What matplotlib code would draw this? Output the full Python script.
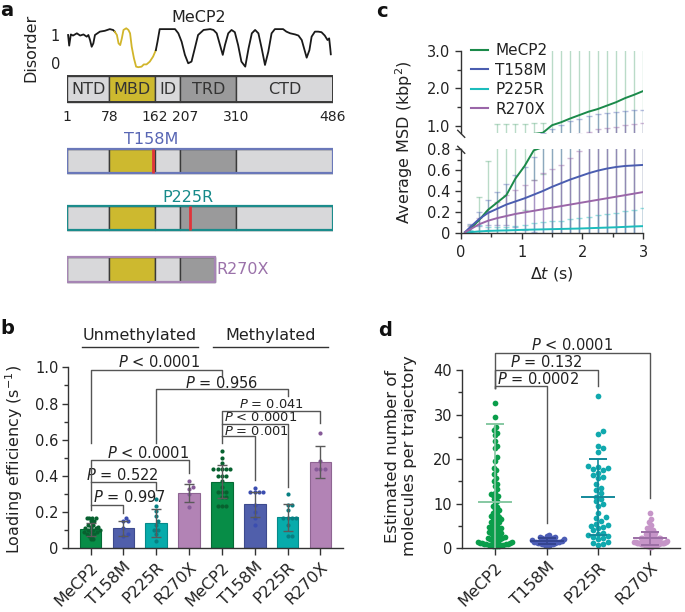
import numpy as np
import matplotlib
matplotlib.use('Agg')
import matplotlib.pyplot as plt
from matplotlib.patches import Rectangle
from matplotlib.lines import Line2D
from matplotlib.ticker import MultipleLocator

plt.rcParams['font.family'] = ['DejaVu Sans']
plt.rcParams['mathtext.fontset'] = 'dejavusans'
plt.rcParams['text.color'] = '#222222'
plt.rcParams['axes.edgecolor'] = '#333333'
plt.rcParams['axes.linewidth'] = 1.0
plt.rcParams['xtick.color'] = '#333333'
plt.rcParams['ytick.color'] = '#333333'
plt.rcParams['xtick.labelcolor'] = '#222222'
plt.rcParams['ytick.labelcolor'] = '#222222'

# ---------------- data ----------------
# panel a: disorder profile
dis_res = [3, 5, 8, 12, 19, 25, 31, 37, 40, 43, 46, 49, 52, 61, 70, 79, 85, 88, 92, 95, 98, 101,
           104, 109, 113, 116, 119, 123, 127, 131, 137, 141, 146, 152, 158, 163, 166, 170, 180,
           198, 204, 210, 216, 222, 228, 234, 240, 250, 262, 268, 274, 280, 285, 289, 295, 301,
           307, 313, 319, 326, 332, 338, 344, 350, 356, 362, 368, 374, 380, 395, 401, 408, 417,
           423, 429, 435, 438, 443, 447, 453, 459, 465, 471, 476, 479, 481, 482]
dis_val = [1.0, 0.62, 1.02, 0.98, 1.06, 0.98, 1.02, 0.94, 1.0, 0.82, 0.58, 0.70, 1.0, 1.12, 1.15,
           1.21, 1.18, 1.12, 1.0, 0.70, 0.64, 0.88, 1.18, 1.24, 1.18, 1.06, 0.58, 0.17, -0.13,
           -0.15, -0.13, -0.05, -0.05, 0.05, 0.23, 0.46, 0.76, 1.21, 1.21, 1.21, 1.06, 0.76, 0.29,
           -0.01, 0.05, 0.52, 1.0, 1.18, 1.21, 1.18, 1.06, 0.64, 0.29, 0.64, 1.06, 1.18, 1.1, 0.64,
           0.05, -0.13, 0.52, 1.06, 1.18, 1.06, 0.52, -0.07, 0.40, 1.06, 1.21, 1.21, 1.12, 1.06,
           1.02, 0.98, 0.82, 0.40, 0.19, 0.46, 0.94, 1.12, 1.12, 1.1, 0.98, 0.82, 0.88, 0.52, 0.31]
mbd_curve_range = (88, 163)

dom_names = ['NTD', 'MBD', 'ID', 'TRD', 'CTD']
dom_start = [1, 78, 162, 207, 310]
dom_end = [78, 162, 207, 310, 486]
dom_colors = ['#d8d8da', '#cdb92f', '#d8d8da', '#9a9a9b', '#d8d8da']
pos_labels = [1, 78, 162, 207, 310, 486]

var_names = ['T158M', 'P225R', 'R270X']
var_mut = [158, 225, None]
var_end = [486, 486, 270]
var_border = ['#6a78b9', '#1b8c8c', '#a685b4']
var_text = ['#5866b4', '#178a8a', '#9b72aa']

# panel b: loading efficiency
b_labels = ['MeCP2', 'T158M', 'P225R', 'R270X', 'MeCP2', 'T158M', 'P225R', 'R270X']
b_means = [0.105, 0.11, 0.138, 0.304, 0.368, 0.243, 0.171, 0.478]
b_sd = [0.035, 0.04, 0.077, 0.05, 0.092, 0.07, 0.075, 0.087]
b_points = [
    [0.17, 0.17, 0.17, 0.17, 0.15, 0.15, 0.13, 0.13, 0.12, 0.12, 0.11, 0.11, 0.10, 0.10, 0.10,
     0.09, 0.09, 0.09, 0.08, 0.08, 0.07, 0.07, 0.05, 0.05],
    [0.17, 0.15, 0.15, 0.11, 0.08, 0.07],
    [0.27, 0.235, 0.205, 0.18, 0.15, 0.13, 0.10, 0.10, 0.08, 0.04],
    [0.37, 0.34, 0.33, 0.30, 0.23],
    [0.54, 0.50, 0.47, 0.44, 0.44, 0.44, 0.44, 0.44, 0.40, 0.40, 0.40, 0.37, 0.34, 0.31, 0.31,
     0.31, 0.285, 0.285, 0.235, 0.235, 0.235],
    [0.335, 0.31, 0.31, 0.31, 0.31, 0.24, 0.20, 0.17, 0.13],
    [0.30, 0.24, 0.24, 0.21, 0.17, 0.17, 0.17, 0.17, 0.13, 0.07, 0.07],
    [0.635, 0.48, 0.44, 0.44, 0.44],
]

# panel c: MSD
c_names = ['MeCP2', 'T158M', 'P225R', 'R270X']
c_t = [0.07, 0.15, 0.30, 0.45, 0.60, 0.75, 0.90, 1.05, 1.20, 1.35, 1.50, 1.65, 1.80, 1.95, 2.10,
       2.25, 2.40, 2.55, 2.70, 2.85, 3.00]
c_mean_wt = [0.003, 0.03, 0.12, 0.22, 0.29, 0.36, 0.52, 0.64, 0.79, 0.82, 1.02, 1.10, 1.20, 1.29,
             1.38, 1.45, 1.54, 1.63, 1.74, 1.83, 1.93]
c_sd_wt = [0.005, 0.04, 0.22, 0.47, 0.75, 0.68, 0.53, 0.42, 0.28, 0.26, 2.6, 2.6, 2.6, 2.6, 2.6,
           2.6, 2.6, 2.6, 2.6, 2.6, 2.6]
c_mean_t158 = [0.005, 0.05, 0.13, 0.19, 0.23, 0.27, 0.30, 0.33, 0.365, 0.40, 0.44, 0.475, 0.51,
               0.54, 0.57, 0.595, 0.615, 0.63, 0.64, 0.645, 0.65]
c_sd_t158 = [0.01, 0.03, 0.07, 0.12, 0.16, 0.20, 0.25, 0.30, 0.36, 0.42, 0.49, 0.55, 0.61, 0.65,
             0.69, 0.72, 0.74, 0.75, 0.76, 0.77, 0.77]
c_mean_p225 = [0.001, 0.005, 0.012, 0.017, 0.02, 0.022, 0.025, 0.028, 0.03, 0.032, 0.034, 0.036,
               0.038, 0.04, 0.043, 0.046, 0.049, 0.052, 0.056, 0.06, 0.063]
c_sd_p225 = [0.005, 0.02, 0.06, 0.04, 0.035, 0.035, 0.04, 0.045, 0.06, 0.07, 0.075, 0.08, 0.09,
             0.10, 0.11, 0.12, 0.13, 0.14, 0.15, 0.16, 0.17]
c_mean_r270 = [0.004, 0.03, 0.08, 0.115, 0.14, 0.16, 0.18, 0.195, 0.21, 0.225, 0.24, 0.255, 0.27,
               0.285, 0.30, 0.315, 0.33, 0.345, 0.36, 0.375, 0.39]
c_sd_r270 = [0.01, 0.03, 0.06, 0.09, 0.15, 0.20, 0.23, 0.26, 0.30, 0.35, 0.37, 0.39, 0.45, 0.50,
             0.55, 0.60, 0.62, 0.64, 0.66, 0.67, 0.68]

# panel d: molecules per trajectory
d_labels = ['MeCP2', 'T158M', 'P225R', 'R270X']
d_means = [10.45, 1.6, 11.5, 2.2]
d_sd = [17.45, 0.6, 8.6, 1.4]
d_points = [
    [32.5, 29.4, 27.3, 26.5, 25.8, 25.5, 23.0, 22.4, 20.4, 19.5, 18.1, 17.5, 16.6, 15.8, 15.0, 14.5,
     14.0, 13.2, 12.5, 12.0, 11.8, 11.5, 11.0, 10.5, 10.0, 9.6, 9.2, 8.8, 8.5, 8.0, 7.6, 7.2, 7.0,
     6.8, 6.5, 6.2, 6.0, 5.8, 5.5, 5.3, 5.0, 4.8, 4.6, 4.4, 4.2, 4.0, 3.8, 3.6, 3.4, 3.2, 3.0, 2.8,
     2.6, 2.4, 2.2, 2.0, 2.0, 1.8, 1.7, 1.6, 1.5, 1.4, 1.3, 1.2, 1.1, 1.0, 1.0, 0.9, 0.8, 0.8, 0.7,
     0.6, 0.6, 0.5, 0.5, 2.5, 3.5, 4.5, 1.5, 0.9, 0.7, 6.5, 7.5, 12.2, 24.0],
    [3.0, 2.8, 2.6, 2.5, 2.3, 2.2, 2.0, 2.0, 1.9, 1.8, 1.7, 1.6, 1.5, 1.5, 1.4, 1.3, 1.2, 1.1, 1.0,
     1.0, 0.9, 0.8, 0.6, 0.5, 1.6, 1.4],
    [34.2, 26.4, 25.6, 22.9, 22.4, 21.5, 18.2, 18.0, 17.7, 17.5, 16.4, 16.0, 15.7, 14.4, 13.6, 13.0,
     12.5, 11.6, 11.0, 10.5, 10.0, 9.5, 8.0, 7.0, 6.7, 6.2, 5.5, 5.0, 4.8, 4.5, 4.0, 3.5, 3.2, 3.0,
     2.8, 2.5, 2.2, 2.0, 1.5, 1.2, 1.0, 0.8, 17.0, 18.5, 5.2],
    [8.0, 6.5, 5.8, 5.2, 4.8, 4.5, 4.2, 4.0, 3.8, 3.6, 3.4, 3.2, 3.0, 3.0, 2.8, 2.7, 2.6, 2.5, 2.4,
     2.3, 2.2, 2.1, 2.0, 2.0, 1.9, 1.8, 1.8, 1.7, 1.6, 1.6, 1.5, 1.5, 1.4, 1.4, 1.3, 1.3, 1.2, 1.2,
     1.1, 1.1, 1.0, 1.0, 0.9, 0.9, 0.8, 0.8, 0.7, 0.7, 0.6, 0.5, 0.5, 0.4, 0.3, 2.2, 2.0, 1.7, 1.5,
     1.2, 1.0, 0.8],
]

# colours
bar_col = {'MeCP2': '#078d47', 'T158M': '#505fab', 'P225R': '#07abab', 'R270X': '#b283b5'}
bar_edge = {'MeCP2': '#056b35', 'T158M': '#3e4b8e', 'P225R': '#058a8a', 'R270X': '#8e6592'}
bdot_col = {'MeCP2': '#07612f', 'T158M': '#3b4db0', 'P225R': '#077f82', 'R270X': '#865a98'}
line_col = {'MeCP2': '#1b8a4a', 'T158M': '#4a5db0', 'P225R': '#1cbcbc', 'R270X': '#9a66a8'}
ddot_col = {'MeCP2': '#0a9e4b', 'T158M': '#4c5db5', 'P225R': '#10a9ae', 'R270X': '#c695c8'}
dline_col = {'MeCP2': '#86c8a2', 'T158M': '#34448f', 'P225R': '#13899a', 'R270X': '#9b6ea5'}

# ---------------- figure helpers ----------------
W, H = 685, 612
fig = plt.figure(figsize=(W / 100, H / 100), dpi=100)


def add_ax(x0, y0, x1, y1):
    return fig.add_axes([x0 / W, 1 - y1 / H, (x1 - x0) / W, (y1 - y0) / H])


def ftext(x, y, s, **kw):
    return fig.text(x / W, 1 - y / H, s, **kw)


def swarm(ax, xc, vals, dpx, maxpx):
    tr = ax.transData
    xscale = tr.transform((1, 0))[0] - tr.transform((0, 0))[0]
    placed = []
    offs, ys = [], []
    cands = [0.0]
    for i in range(1, 80):
        cands += [i * dpx * 0.5, -i * dpx * 0.5]
    for v in sorted(vals):
        ypx = tr.transform((0, v))[1]
        for c in cands:
            if all((c - px) ** 2 + (ypx - py) ** 2 >= (dpx * 0.97) ** 2 for px, py in placed):
                break
        placed.append((c, ypx))
        offs.append(c)
        ys.append(v)
    offs = np.array(offs)
    m = np.abs(offs).max() if len(offs) else 0
    if m > maxpx:
        offs = offs * maxpx / m
    return xc + offs / xscale, ys


def ptext(sym, val):
    return r'$\it{P}$ ' + sym + ' ' + val


# ---------------- panel labels ----------------
for (lx, ly, s) in [(0, 16, 'a'), (0, 334, 'b'), (376, 17, 'c'), (378, 336, 'd')]:
    ftext(lx, ly, s, fontsize=14, fontweight='bold', va='baseline', ha='left', color='#111111')

# ---------------- panel a ----------------
axd = add_ax(67, 25, 333, 70)
axd.set_xlim(1, 486)
axd.set_ylim(-0.25, 1.357)
res = np.array(dis_res)
val = np.array(dis_val)
m1 = res <= mbd_curve_range[0]
m2 = (res >= mbd_curve_range[0]) & (res <= mbd_curve_range[1])
m3 = res >= mbd_curve_range[1]
axd.plot(res[m1], val[m1], color='#1a1a1a', lw=1.3)
axd.plot(res[m2], val[m2], color='#d1b52a', lw=1.3)
axd.plot(res[m3], val[m3], color='#1a1a1a', lw=1.3)
for s in axd.spines.values():
    s.set_visible(False)
axd.set_xticks([])
axd.set_yticks([0, 1])
axd.set_yticklabels(['0', '1'])
axd.tick_params(axis='y', length=0, pad=5, labelsize=10.5)
axd.patch.set_alpha(0)
axd.text(241, 1.64, 'MeCP2', ha='center', va='center', fontsize=11.5)
ftext(31, 48, 'Disorder', rotation=90, ha='center', va='center', fontsize=11.5)

axb = add_ax(67, 70, 333, 295)
axb.set_xlim(1, 486)
axb.set_ylim(295, 70)
axb.axis('off')

rows = {'WT': (76, 102), 'T158M': (149, 173), 'P225R': (206, 230), 'R270X': (257, 282)}


def draw_bar(y0, y1, end, border, lw_b, labels=False):
    for nm, s, e, c in zip(dom_names, dom_start, dom_end, dom_colors):
        if s >= end:
            break
        ee = min(e, end)
        axb.add_patch(Rectangle((s, y0), ee - s, y1 - y0, facecolor=c, edgecolor='#3a3a3a', lw=1.0))
        if labels:
            axb.text((s + ee) / 2, (y0 + y1) / 2 + 0.5, nm, ha='center', va='center', fontsize=11.5,
                     color='#333333')
    axb.add_patch(Rectangle((1, y0), end - 1, y1 - y0, fill=False, edgecolor=border, lw=lw_b))


draw_bar(*rows['WT'], 486, '#3a3a3a', 1.4, labels=True)
num_shift = {1: 0, 78: 0, 162: -2, 207: 9, 310: 0, 486: 0}
for p in pos_labels:
    axb.text(p + num_shift[p], 117, str(p), ha='center', va='center', fontsize=10)

for nm, mut, end, bc, tc in zip(var_names, var_mut, var_end, var_border, var_text):
    y0, y1 = rows[nm]
    draw_bar(y0, y1, end, bc, 1.6)
    if mut is not None:
        axb.plot([mut, mut], [y0, y1], color='#e0343a', lw=2.0, solid_capstyle='butt')
        axb.text(mut - 3, y0 - 9, nm, ha='center', va='center', fontsize=11.5, color=tc)
    else:
        axb.text(end + 3, (y0 + y1) / 2, nm, ha='left', va='center', fontsize=11.5, color=tc)

# ---------------- panel b ----------------
ax_b = add_ax(68.3, 367.3, 343, 548.3)
xb = np.arange(len(b_labels))
ax_b.set_xlim(-0.68, 7.69)
ax_b.set_ylim(0, 1.0)
ax_b.bar(xb, b_means, width=0.66, color=[bar_col[n] for n in b_labels],
         edgecolor=[bar_edge[n] for n in b_labels], linewidth=0.8, zorder=2)
for i, pts in enumerate(b_points):
    xs, ys = swarm(ax_b, xb[i], pts, 4.3, 9.0)
    ax_b.scatter(xs, ys, s=9, color=bdot_col[b_labels[i]], linewidths=0, zorder=3)
ax_b.errorbar(xb, b_means, yerr=b_sd, fmt='none', ecolor='#5a5a5a', elinewidth=1.0, capsize=3.6,
              capthick=1.0, zorder=4)
for sp in ['top', 'right']:
    ax_b.spines[sp].set_visible(False)
ax_b.set_yticks([0, 0.2, 0.4, 0.6, 0.8, 1.0])
ax_b.set_yticklabels(['0', '0.2', '0.4', '0.6', '0.8', '1.0'])
ax_b.yaxis.set_minor_locator(MultipleLocator(0.1))
ax_b.tick_params(axis='y', which='major', length=4, width=1, labelsize=10.5, pad=3)
ax_b.tick_params(axis='y', which='minor', length=3, width=1)
ax_b.set_xticks(xb)
ax_b.set_xticklabels(b_labels, rotation=45, ha='right', va='top', rotation_mode='anchor', fontsize=11.5)
ax_b.tick_params(axis='x', length=5, width=1, pad=3)
ftext(14, 459, r'Loading efficiency (s$^{-1}$)', rotation=90, ha='center', va='center', fontsize=11.5)

bc = '#555555'
pfs = 10.5
pfs2 = 9.4


def bracket(ax, x1, x2, y, b1, b2):
    ax.plot([x1, x1, x2, x2], [b1, y, y, b2], color=bc, lw=1.0, clip_on=False, zorder=5)


bracket(ax_b, 0, 4, 0.985, 0.583, 0.95)
ax_b.text(2.1, 1.031, ptext('<', '0.0001'), ha='center', va='center', fontsize=pfs)
bracket(ax_b, 2, 6, 0.88, 0.583, 0.84)
ax_b.text(4.0, 0.915, ptext('=', '0.956'), ha='center', va='center', fontsize=pfs)
bracket(ax_b, 4, 7, 0.76, 0.583, 0.69)
ax_b.text(5.5, 0.797, ptext('=', '0.041'), ha='center', va='center', fontsize=pfs2)
bracket(ax_b, 4, 6, 0.687, 0.687, 0.34)
ax_b.text(4.05, 0.722, ptext('<', '0.0001'), ha='left', va='center', fontsize=pfs2)
bracket(ax_b, 4, 5, 0.622, 0.622, 0.377)
ax_b.text(4.05, 0.645, ptext('=', '0.001'), ha='left', va='center', fontsize=pfs2)
bracket(ax_b, 0, 3, 0.488, 0.21, 0.418)
ax_b.text(1.75, 0.525, ptext('<', '0.0001'), ha='center', va='center', fontsize=pfs)
bracket(ax_b, 0, 2, 0.368, 0.368, 0.322)
ax_b.text(0.97, 0.405, ptext('=', '0.522'), ha='center', va='center', fontsize=pfs)
bracket(ax_b, 0, 1, 0.239, 0.239, 0.197)
ax_b.text(0.07, 0.282, ptext('=', '0.997'), ha='left', va='center', fontsize=pfs)

ax_b.plot([-0.27, 3.27], [1.114, 1.114], color='#333333', lw=1.0, clip_on=False)
ax_b.plot([3.73, 7.23], [1.114, 1.114], color='#333333', lw=1.0, clip_on=False)
ax_b.text(1.5, 1.175, 'Unmethylated', ha='center', va='center', fontsize=11.5)
ax_b.text(5.48, 1.175, 'Methylated', ha='center', va='center', fontsize=11.5)

# ---------------- panel c ----------------
ax_up = add_ax(460.7, 50.7, 643.3, 133.3)
ax_lo = add_ax(460.7, 149.3, 643.3, 232.7)
c_means = [c_mean_wt, c_mean_t158, c_mean_p225, c_mean_r270]
c_sds = [c_sd_wt, c_sd_t158, c_sd_p225, c_sd_r270]
ealpha = [0.3, 0.4, 0.45, 0.45]
for ax in (ax_up, ax_lo):
    for nm, mn, sd, ea in zip(c_names, c_means, c_sds, ealpha):
        ax.errorbar(c_t[1:], mn[1:], yerr=sd[1:], fmt='none', ecolor=line_col[nm], alpha=ea,
                    elinewidth=1.0, capsize=2.2, capthick=1.0)
    for nm, mn in zip(c_names, c_means):
        ax.plot(c_t, mn, color=line_col[nm], lw=1.4)
    ax.set_xlim(0, 3)
    ax.spines['top'].set_visible(False)
    ax.spines['right'].set_visible(False)
    ax.tick_params(axis='both', which='major', length=4, width=1, labelsize=10.5)
    ax.tick_params(axis='both', which='minor', length=3, width=1)
ax_up.set_ylim(0.806, 3.0)
ax_lo.set_ylim(0, 0.8)
ax_up.spines['bottom'].set_visible(False)
ax_up.set_xticks([])
ax_up.set_yticks([1, 2, 3])
ax_up.set_yticklabels(['1.0', '2.0', '3.0'])
ax_up.set_yticks([1.5, 2.5], minor=True)
ax_lo.set_yticks([0, 0.2, 0.4, 0.6, 0.8])
ax_lo.set_yticklabels(['0', '0.2', '0.4', '0.6', '0.8'])
ax_lo.yaxis.set_minor_locator(MultipleLocator(0.1))
ax_lo.set_xticks([0, 1, 2, 3])
ax_lo.xaxis.set_minor_locator(MultipleLocator(0.5))
ax_lo.tick_params(axis='x', pad=5)
# break marks
for ax, yb in ((ax_up, 0.0), (ax_lo, 1.0)):
    p = ax.transAxes.transform((0, yb))
    inv = ax.transAxes.inverted()
    a1 = inv.transform((p[0] - 3, p[1] + 3))
    a2 = inv.transform((p[0] + 4, p[1] - 4))
    ax.plot([a1[0], a2[0]], [a1[1], a2[1]], transform=ax.transAxes, color='#333333', lw=1.0,
            clip_on=False)
handles = [Line2D([0], [0], color=line_col[n], lw=1.5) for n in c_names]
ax_up.legend(handles, c_names, loc='upper left', bbox_to_anchor=(471 / W, 1 - 43 / H),
             bbox_transform=fig.transFigure, frameon=False, fontsize=11, handlelength=1.1,
             handletextpad=0.5, labelspacing=0.3, borderpad=0, borderaxespad=0)
ftext(404, 142, r'Average MSD (kbp$^2$)', rotation=90, ha='center', va='center', fontsize=11.5)
ftext(552, 274, r'$\Delta\it{t}$ (s)', ha='center', va='center', fontsize=11.5)

# ---------------- panel d ----------------
ax_d = add_ax(461.7, 370, 680, 548.3)
xd = np.arange(len(d_labels))
ax_d.set_xlim(-0.644, 3.58)
ax_d.set_ylim(0, 40)
for i, pts in enumerate(d_points):
    xs, ys = swarm(ax_d, xd[i], pts, 5.0, 17.0)
    ax_d.scatter(xs, ys, s=17, color=ddot_col[d_labels[i]], linewidths=0, zorder=2, clip_on=False)
for i, (m, e) in enumerate(zip(d_means, d_sd)):
    c = dline_col[d_labels[i]]
    ax_d.plot([xd[i] - 0.31, xd[i] + 0.31], [m, m], color=c, lw=1.4, zorder=3)
    ax_d.errorbar(xd[i], m, yerr=e, fmt='none', ecolor=c, elinewidth=1.2, capsize=6.5,
                  capthick=1.4, zorder=3)
for sp in ['top', 'right']:
    ax_d.spines[sp].set_visible(False)
ax_d.set_yticks([0, 10, 20, 30, 40])
ax_d.yaxis.set_minor_locator(MultipleLocator(5))
ax_d.tick_params(axis='y', which='major', length=4, width=1, labelsize=10.5, pad=3)
ax_d.tick_params(axis='y', which='minor', length=3, width=1)
ax_d.set_xticks(xd)
ax_d.set_xticklabels(d_labels, rotation=45, ha='right', va='top', rotation_mode='anchor', fontsize=11.5)
ax_d.tick_params(axis='x', length=5, width=1, pad=3)

bracket(ax_d, 0, 3, 43.9, 35.9, 11.3)
ax_d.text(1.5, 45.6, ptext('<', '0.0001'), ha='center', va='center', fontsize=pfs)
bracket(ax_d, 0, 2, 40.1, 35.9, 36.4)
ax_d.text(1.0, 41.7, ptext('=', '0.132'), ha='center', va='center', fontsize=pfs)
bracket(ax_d, 0, 1, 36.4, 35.9, 5.7)
ax_d.text(0.04, 37.9, ptext('=', '0.0002'), ha='left', va='center', fontsize=pfs)
ftext(401, 456, 'Estimated number of\nmolecules per trajectory', rotation=90, ha='center',
      va='center', fontsize=11.8, linespacing=1.2, multialignment='center')

fig.savefig('out.png', dpi=100)
